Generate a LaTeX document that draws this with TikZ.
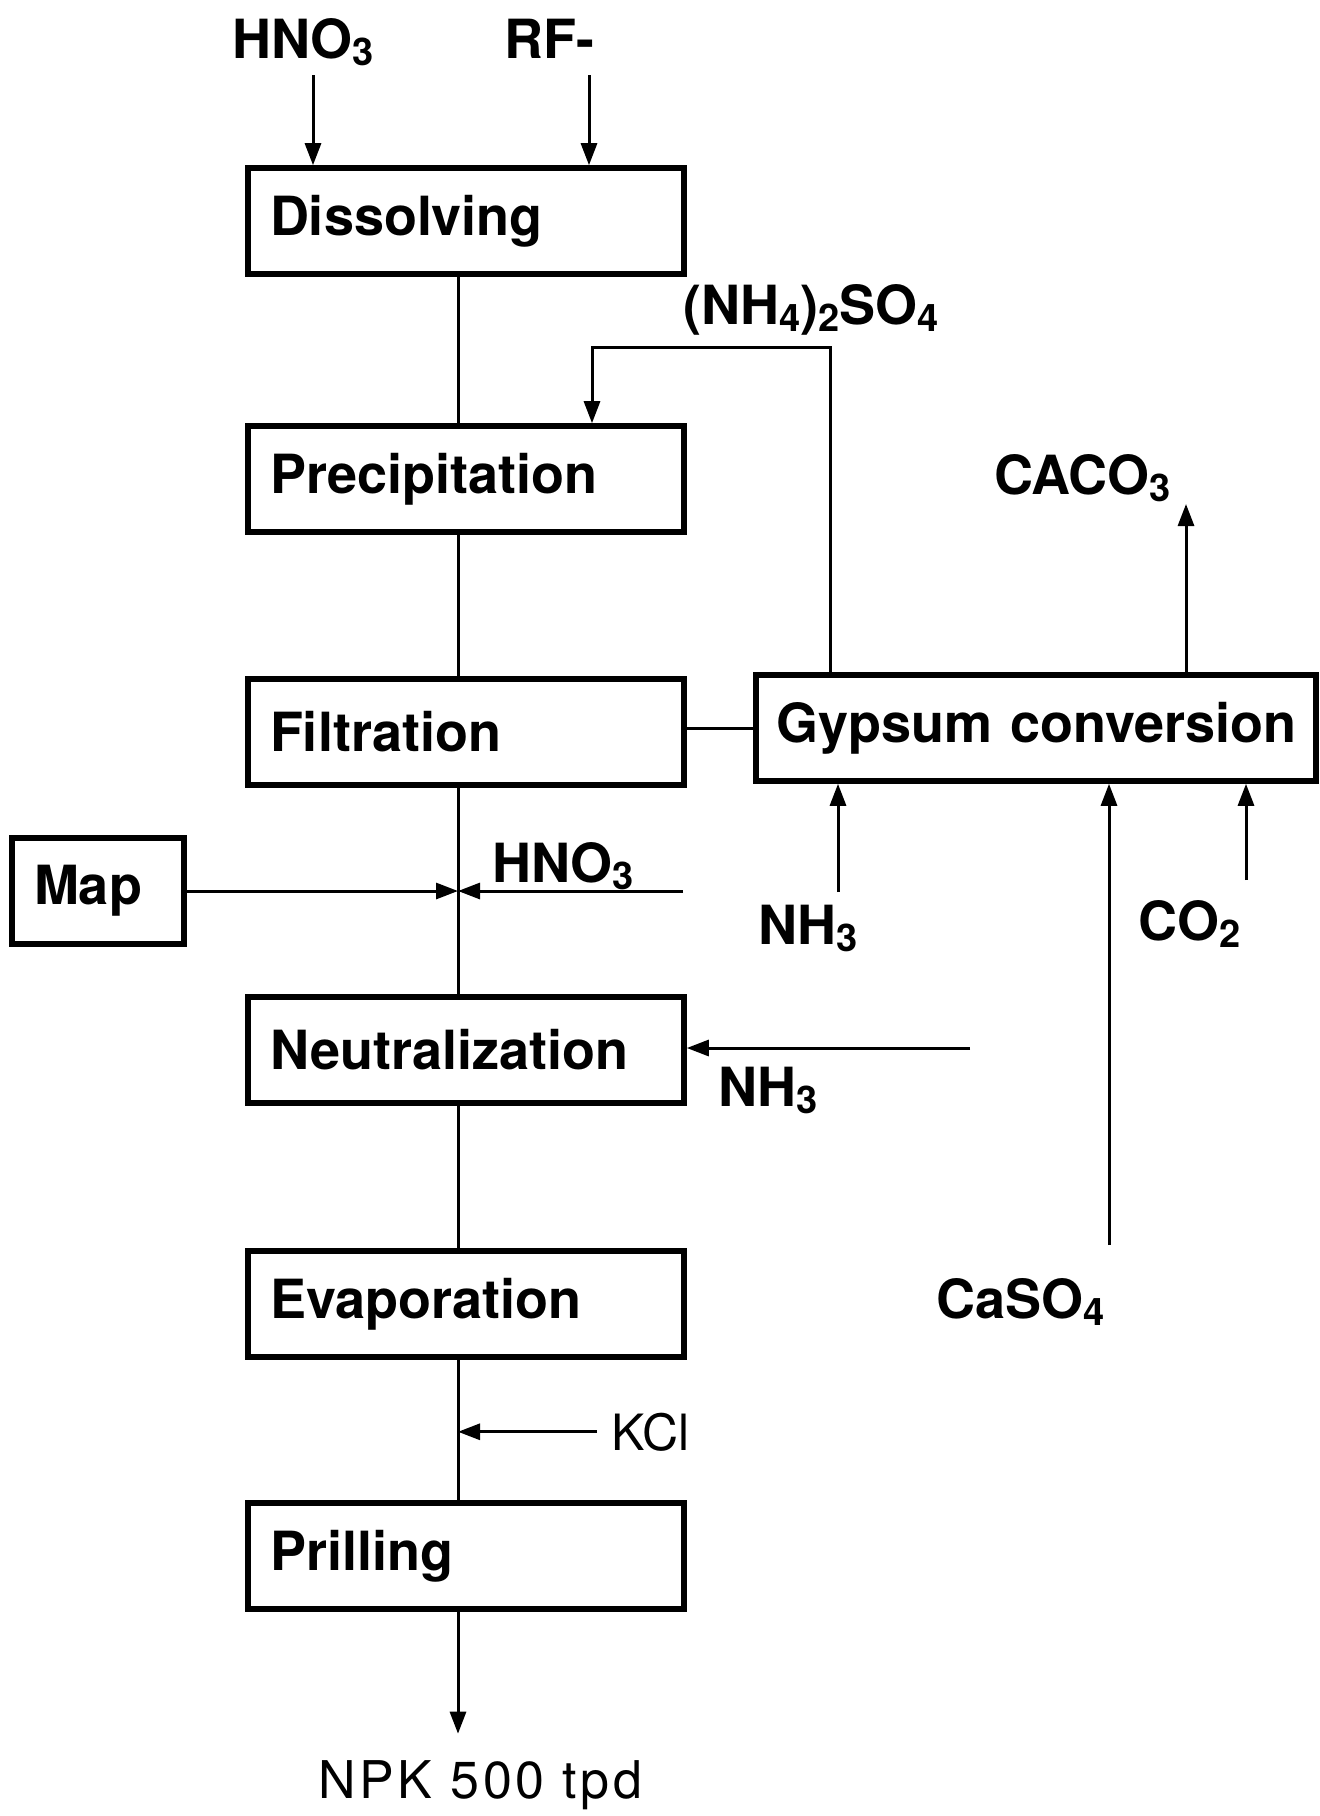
\documentclass[tikz,border=0pt]{standalone}
\usepackage{fontspec}
\setmainfont{TeX Gyre Heros}
\usetikzlibrary{arrows.meta}
\newcommand{\chemsub}[1]{\raisebox{-3.5pt}{\fontsize{19}{19}\selectfont #1}}
\tikzset{
	stage/.style={draw, line width=2.8pt, minimum height=53pt, inner xsep=11pt, align=left, font=\fontsize{27}{30}\selectfont\bfseries},
	chem/.style={inner sep=0pt, anchor=base west, font=\fontsize{27}{30}\selectfont\bfseries},
	pipe/.style={line width=1.5pt},
	feed/.style={line width=1.5pt, -{Triangle[width=8pt,length=11pt]}},
}

\begin{document}
\begin{tikzpicture}[x=0.5pt, y=-0.5pt]
			%%%%% START %%%%%
			\useasboundingbox (0,0) rectangle (1319,1816);
			
			% process line
			\node[stage, text width=196pt] (diss) at (466,221) {Dissolving};
			\node[stage, text width=196pt] (prec) at (466,479) {Precipitation};
			\node[stage, text width=196pt] (filt) at (466,732) {Filtration};
			\node[stage, text width=196pt] (neut) at (466,1050) {Neutralization};
			\node[stage, text width=196pt] (evap) at (466,1304) {Evaporation};
			\node[stage, text width=196pt] (pril) at (466,1556) {Prilling};
			\node[chem, font=\fontsize{26}{30}\selectfont\addfontfeature{LetterSpace=7}] (npk) at (318,1798) {NPK 500 tpd};
			
			\coordinate (spine) at (458,0);
			\foreach \a/\b in {diss/prec, prec/filt, filt/neut, neut/evap, evap/pril}
				\draw[pipe] (\a.south -| spine) -- (\b.north -| spine);
			\draw[feed, shorten >=13pt] (pril.south -| spine) -- (npk.north -| spine);
			
			% feeds to dissolving
			\node[chem] (hno3a) at (232,58) {HNO\chemsub{3}};
			\node[chem] (rf) at (504,58) {RF-};
			\coordinate (hno3x) at (313,75);
			\coordinate (rfx) at (589,75);
			\draw[feed] (hno3x) -- (hno3x |- diss.north);
			\draw[feed] (rfx) -- (rfx |- diss.north);
			
			% gypsum conversion
			\node[stage, text width=260pt, inner xsep=10pt] (gyp) at (1036,728) {\mbox{Gypsum conversion}};
			\draw[pipe] (gyp.west) -- (gyp.west -| filt.east);
			
			\node[chem] (amsul) at (683,324) {(NH\chemsub{4})\chemsub{2}SO\chemsub{4}};
			\coordinate (fbr) at (830,347);
			\coordinate (fbl) at (592,347);
			\draw[feed] (fbr |- gyp.north) -- (fbr) -- (fbl) -- (fbl |- prec.north);
			
			\node[chem] (caco) at (994,494) {CACO\chemsub{3}};
			\coordinate (cacox) at (1186,504);
			\draw[feed] (cacox |- gyp.north) -- (cacox);
			
			\node[chem] (nh3g) at (758,944) {NH\chemsub{3}};
			\node[chem] (co2) at (1138,940) {CO\chemsub{2}};
			\node[chem] (caso) at (936,1318) {CaSO\chemsub{4}};
			\coordinate (nh3x) at (838,892);
			\coordinate (co2x) at (1246,880);
			\coordinate (casox) at (1109,1245);
			\foreach \c in {nh3x, co2x, casox}
				\draw[feed] (\c) -- (\c |- gyp.south);
			
			% side feeds
			\node[stage, text width=64pt] (map) at (98,891) {Map};
			\node[chem] (hno3b) at (492,882) {HNO\chemsub{3}};
			\coordinate (hno3y) at (683,891);
			\draw[feed] (map.east) -- (map.east -| spine);
			\draw[feed] (hno3y) -- (hno3y -| spine);
			
			\node[chem] (nh3n) at (718,1106) {NH\chemsub{3}};
			\coordinate (nh3y) at (970,1048);
			\draw[feed] (nh3y) -- (nh3y -| neut.east);
			
			\node[chem, font=\fontsize{25}{30}\selectfont] (kcl) at (611,1450) {KCl};
			\draw[feed, shorten <=7pt] (kcl.west) -- (kcl.west -| spine);
			%%%%% END %%%%%
\end{tikzpicture}
\end{document}
